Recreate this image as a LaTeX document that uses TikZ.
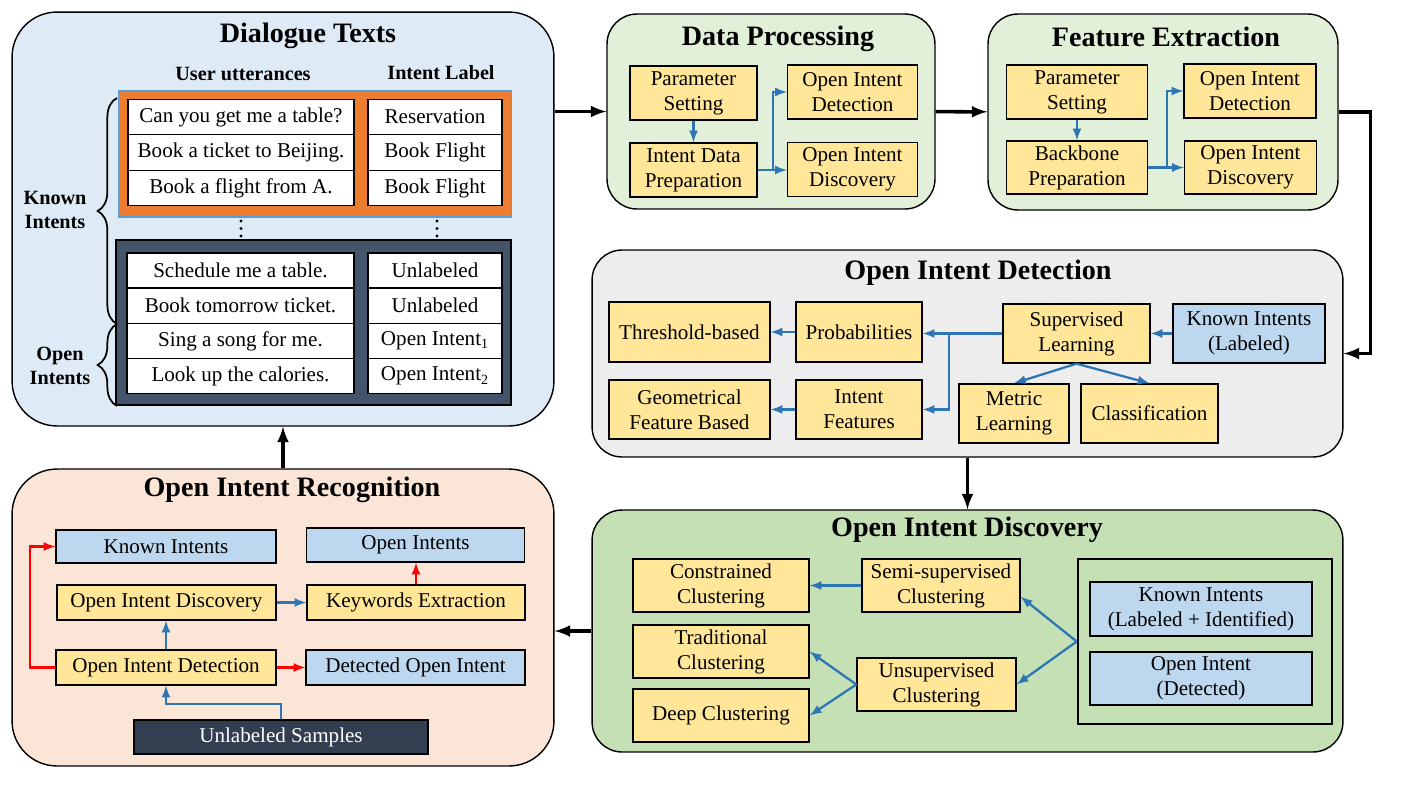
\documentclass[tikz,border=0pt]{standalone}
\usepackage{fontspec}
\setmainfont{Liberation Serif}
\usetikzlibrary{decorations.pathreplacing}

\definecolor{dialbg}{HTML}{DEEBF7}
\definecolor{procbg}{HTML}{E2F0D9}
\definecolor{detbg}{HTML}{EDEDED}
\definecolor{discbg}{HTML}{C5E0B4}
\definecolor{recbg}{HTML}{FBE5D6}
\definecolor{boxyellow}{HTML}{FFE699}
\definecolor{boxblue}{HTML}{BDD7EE}
\definecolor{boxorange}{HTML}{ED7D31}
\definecolor{slate}{HTML}{44546A}
\definecolor{darkslate}{HTML}{333F50}
\definecolor{frameblue}{HTML}{5B9BD5}
\definecolor{linkblue}{HTML}{2E75B6}

\begin{document}
\begin{tikzpicture}[
    x=0.02cm,
    y=-0.02cm,
    panel/.style={draw, line width=0.8pt, rounded corners=0.6cm},
    ptitle/.style={font=\fontsize{16}{19}\selectfont\bfseries},
    head/.style={font=\fontsize{11.5}{13.6}\selectfont\bfseries, align=center},
    ybox/.style={draw, line width=0.8pt, fill=boxyellow, align=center,
      font=\fontsize{12}{14.2}\selectfont, inner sep=1pt},
    bbox/.style={ybox, fill=boxblue},
    cell/.style={draw, line width=0.8pt, fill=white,
      font=\fontsize{12}{14.2}\selectfont, inner sep=1pt},
    flow/.style={-latex, line width=2pt},
    link/.style={-latex, line width=1.3pt, linkblue},
    hot/.style={-latex, line width=1.3pt, red}
  ]
  \useasboundingbox (0,0) rectangle (1401,789);

  % panels
  \node[panel, rounded corners=0.9cm, fill=dialbg, minimum width=10.84cm,
    minimum height=8.28cm] (dia) at (283,219) {};
  \node[panel, fill=procbg, minimum width=6.56cm, minimum height=3.9cm]
  (dp) at (771,111.5) {};
  \node[panel, fill=procbg, minimum width=7cm, minimum height=3.92cm]
  (fe) at (1163,112) {};
  \node[panel, fill=detbg, minimum width=15.02cm, minimum height=4.14cm]
  (od) at (967.5,353.5) {};
  \node[panel, fill=discbg, minimum width=15.02cm, minimum height=4.84cm]
  (disc) at (967.5,631) {};
  \node[panel, rounded corners=0.9cm, fill=recbg, minimum width=10.84cm,
    minimum height=5.94cm] (rec) at (283,617.5) {};

  \node[ptitle] (dia-t) at (308,36) {Dialogue Texts};
  \node[ptitle] (dp-t) at (778,39) {Data Processing};
  \node[ptitle] (fe-t) at (1166,37) {Feature Extraction};
  \node[ptitle] (od-t) at (978,273) {Open Intent Detection};
  \node[ptitle] (disc-t) at (967,530) {Open Intent Discovery};
  \node[ptitle] (rec-t) at (292,490) {Open Intent Recognition};

  % dialogue texts
  \node[head] (dia-u) at (243,74) {User utterances};
  \node[head] (dia-l) at (441,73) {Intent Label};
  \node[draw=frameblue, line width=0.6pt, fill=boxorange, minimum width=7.88cm,
    minimum height=2.52cm] (dt-known) at (315,154) {};
  \node[draw, line width=0.8pt, fill=slate, minimum width=7.9cm,
    minimum height=3.3cm] (dt-open) at (313.5,322.5) {};
  \foreach \u/\l [count=\i] in {Can you get me a table?/Reservation,
      Book a ticket to Beijing./Book Flight, Book a flight from A./Book Flight}{
    \node[cell, minimum width=4.52cm, minimum height=0.71cm]
    (dt-ku\i) at (241,81.5+35.5*\i) {\u};
    \node[cell, minimum width=2.68cm, minimum height=0.71cm]
    (dt-kl\i) at (435,81.5+35.5*\i) {\l};
  }
  \foreach \u/\l [count=\i] in {Schedule me a table./Unlabeled,
      Book tomorrow ticket./Unlabeled,
      Sing a song for me./Open Intent\textsubscript{1},
      Look up the calories./Open Intent\textsubscript{2}}{
    \node[cell, minimum width=4.54cm, minimum height=0.704cm]
    (dt-ou\i) at (240.5,235.3+35.2*\i) {\u};
    \node[cell, minimum width=2.68cm, minimum height=0.704cm]
    (dt-ol\i) at (435,235.3+35.2*\i) {\l};
  }
  % vertical dots between the two tables
  \foreach \x in {241,437}
    \foreach \y in {221,228.5,236}
      \fill (\x,\y) circle (0.9pt);
  \draw[decorate, decoration={brace, amplitude=11pt}, line width=1pt]
  (117,324) -- (117,98);
  \draw[decorate, decoration={brace, amplitude=11pt}, line width=1pt]
  (117,406) -- (117,324);
  \node[head] (dt-kb) at (55,210) {Known\\Intents};
  \node[head] (dt-ob) at (60,366) {Open\\Intents};

  % data processing
  \node[ybox, minimum width=2.54cm, minimum height=1.08cm]
  (dp-ps) at (693.5,93) {Parameter\\Setting};
  \node[ybox, minimum width=2.54cm, minimum height=1.08cm]
  (dp-idp) at (693.5,170) {Intent Data\\Preparation};
  \node[ybox, minimum width=2.6cm, minimum height=1.08cm]
  (dp-det) at (852.5,92) {Open Intent\\Detection};
  \node[ybox, minimum width=2.6cm, minimum height=1.08cm]
  (dp-dis) at (852.5,169.5) {Open Intent\\Discovery};
  \draw[link] (dp-ps) -- (dp-idp);
  \draw[link] (dp-idp.east) -- ++(15,0) |- (dp-det.west);
  \draw[link] (dp-idp.east) -- (dp-idp.east -| dp-dis.west);

  % feature extraction
  \node[ybox, minimum width=2.82cm, minimum height=1.08cm]
  (fe-ps) at (1077,92) {Parameter\\Setting};
  \node[ybox, minimum width=2.82cm, minimum height=1.06cm]
  (fe-bp) at (1077,167.5) {Backbone\\Preparation};
  \node[ybox, minimum width=2.64cm, minimum height=1.08cm]
  (fe-det) at (1250,91) {Open Intent\\Detection};
  \node[ybox, minimum width=2.64cm, minimum height=1.06cm]
  (fe-dis) at (1250.5,167.5) {Open Intent\\Discovery};
  \draw[link] (fe-ps) -- (fe-bp);
  \draw[link] (fe-bp.east) -- ++(19,0) |- (fe-det.west);
  \draw[link] (fe-bp.east) -- (fe-dis.west);

  % open intent detection
  \node[ybox, minimum width=3.22cm, minimum height=1.2cm]
  (od-thr) at (689.5,332) {Threshold-based};
  \node[ybox, minimum width=2.52cm, minimum height=1.2cm]
  (od-prob) at (859,332) {Probabilities};
  \node[ybox, minimum width=2.94cm, minimum height=1.18cm]
  (od-sup) at (1076.5,333.5) {Supervised\\Learning};
  \node[bbox, minimum width=3.04cm, minimum height=1.18cm]
  (od-known) at (1249,333.5) {Known Intents\\(Labeled)};
  \node[ybox, minimum width=3.22cm, minimum height=1.18cm]
  (od-geo) at (689.5,409.5) {Geometrical\\Feature Based};
  \node[ybox, minimum width=2.52cm, minimum height=1.18cm]
  (od-feat) at (859,409.5) {Intent\\Features};
  \node[ybox, minimum width=2.2cm, minimum height=1.18cm]
  (od-met) at (1014,413.5) {Metric\\Learning};
  \node[ybox, minimum width=2.74cm, minimum height=1.18cm]
  (od-cls) at (1149.5,413.5) {Classification};
  \draw[link] (od-known) -- (od-sup);
  \draw[link] (od-sup.west) -- (od-sup.west -| od-prob.east);
  \draw[link] (od-sup.west -| od-prob.east) ++(26,0) |- (od-feat.east);
  \draw[link] (od-prob) -- (od-thr);
  \draw[link] (od-feat) -- (od-geo);
  \draw[link] (od-sup.south) -- (od-met.north);
  \draw[link] (od-sup.south) -- (od-cls.north);

  % open intent discovery
  \node[ybox, minimum width=3.52cm, minimum height=1.06cm]
  (oc-con) at (721,585.5) {Constrained\\Clustering};
  \node[ybox, minimum width=3.16cm, minimum height=1.06cm]
  (oc-semi) at (941,585.5) {Semi-supervised\\Clustering};
  \node[ybox, minimum width=3.52cm, minimum height=1.06cm]
  (oc-trad) at (721,651.5) {Traditional\\Clustering};
  \node[ybox, minimum width=3.52cm, minimum height=1.06cm]
  (oc-deep) at (721,715.5) {Deep Clustering};
  \node[ybox, minimum width=3.18cm, minimum height=1.06cm]
  (oc-uns) at (936.5,684.5) {Unsupervised\\Clustering};
  \node[draw, line width=1.5pt, minimum width=5.08cm, minimum height=3.3cm]
  (oc-grp) at (1205,641.5) {};
  \node[bbox, minimum width=4.44cm, minimum height=1.08cm]
  (oc-known) at (1201,609) {Known Intents\\(Labeled + Identified)};
  \node[bbox, minimum width=4.44cm, minimum height=1.06cm]
  (oc-open) at (1201,678.5) {Open Intent\\(Detected)};
  \draw[link] (oc-semi) -- (oc-con);
  \draw[link] (oc-grp.west) -- (oc-semi.-8);
  \draw[link] (oc-grp.west) -- (oc-uns.east);
  \draw[link] (oc-uns.west) -- (oc-trad.east);
  \draw[link] (oc-uns.west) -- (oc-deep.east);

  % open intent recognition
  \node[bbox, minimum width=4.4cm, minimum height=0.66cm]
  (or-known) at (166,546.5) {Known Intents};
  \node[bbox, minimum width=4.36cm, minimum height=0.68cm]
  (or-open) at (415.5,545) {Open Intents};
  \node[ybox, minimum width=4.38cm, minimum height=0.7cm]
  (or-dis) at (166.5,602.5) {Open Intent Discovery};
  \node[ybox, minimum width=4.36cm, minimum height=0.7cm]
  (or-kw) at (416,602.5) {Keywords Extraction};
  \node[ybox, minimum width=4.4cm, minimum height=0.7cm]
  (or-det) at (166,667.5) {Open Intent Detection};
  \node[bbox, minimum width=4.38cm, minimum height=0.7cm]
  (or-dop) at (415.5,667.5) {Detected Open Intent};
  \node[ybox, fill=darkslate, text=white, minimum width=5.88cm,
    minimum height=0.68cm] (or-un) at (281,737) {Unlabeled Samples};
  \draw[hot] (or-det.west) -- ++(-25,0) |- (or-known.west);
  \draw[link] (or-det) -- (or-det |- or-dis.south);
  \draw[link] (or-dis) -- (or-kw);
  \draw[hot] (or-kw) -- (or-kw |- or-open.south);
  \draw[hot] (or-det) -- (or-dop);
  \draw[link] (or-un.north) -- ++(0,-15) -| (or-det.south);

  % flow between panels
  \draw[flow] (dia.east |- dp.west) -- (dp.west);
  \draw[flow] (dp) -- (fe);
  \draw[flow] (fe.east) -- ++(32,0) |- (od.east);
  \draw[flow] (od) -- (disc);
  \draw[flow] (disc.west) -- (disc.west -| rec.east);
  \draw[flow] (rec) -- (dia);
\end{tikzpicture}
\end{document}
